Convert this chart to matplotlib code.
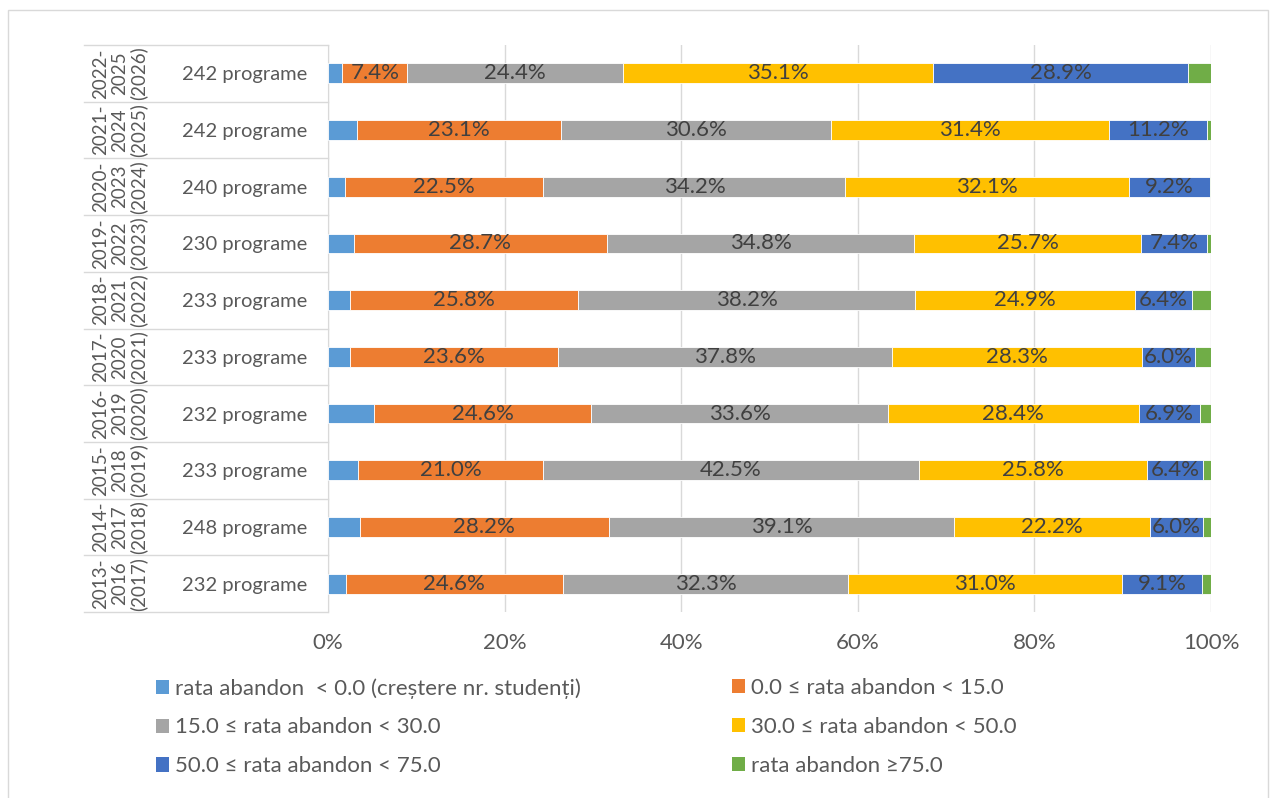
import numpy as np
import matplotlib.pyplot as plt
from matplotlib.patches import Patch, Rectangle
from matplotlib.transforms import blended_transform_factory

plt.rcParams['font.family'] = ['Lato', 'DejaVu Sans']

# rows from bottom to top
periods = ['2013-\n2016\n(2017)', '2014-\n2017\n(2018)', '2015-\n2018\n(2019)', '2016-\n2019\n(2020)',
           '2017-\n2020\n(2021)', '2018-\n2021\n(2022)', '2019-\n2022\n(2023)', '2020-\n2023\n(2024)',
           '2021-\n2024\n(2025)', '2022-\n2025\n(2026)']
programe = [232, 248, 233, 232, 233, 233, 230, 240, 242, 242]

neg = [2.0, 3.6, 3.4, 5.2, 2.5, 2.5, 2.9, 1.9, 3.3, 1.6]
r0_15 = [24.6, 28.2, 21.0, 24.6, 23.6, 25.8, 28.7, 22.5, 23.1, 7.4]
r15_30 = [32.3, 39.1, 42.5, 33.6, 37.8, 38.2, 34.8, 34.2, 30.6, 24.4]
r30_50 = [31.0, 22.2, 25.8, 28.4, 28.3, 24.9, 25.7, 32.1, 31.4, 35.1]
r50_75 = [9.1, 6.0, 6.4, 6.9, 6.0, 6.4, 7.4, 9.2, 11.2, 28.9]
r75 = [1.0, 0.9, 0.9, 1.3, 1.8, 2.2, 0.5, 0.2, 0.4, 2.6]

series = [neg, r0_15, r15_30, r30_50, r50_75, r75]
names = ['rata abandon  < 0.0 (creștere nr. studenți)', '0.0 ≤ rata abandon < 15.0',
         '15.0 ≤ rata abandon < 30.0', '30.0 ≤ rata abandon < 50.0',
         '50.0 ≤ rata abandon < 75.0', 'rata abandon ≥75.0']
colors = ['#5B9BD5', '#ED7D31', '#A5A5A5', '#FFC000', '#4472C4', '#70AD47']
labelled = [False, True, True, True, True, False]

txt = '#404040'
fig = plt.figure(figsize=(12.7, 7.98), dpi=100)
fig.patches.append(Rectangle((8 / 1270, -0.01), 1260 / 1270, 1 - 10 / 798 + 0.01,
                             transform=fig.transFigure, fill=False, ec='#d9d9d9', lw=1))
ax = fig.add_axes([328 / 1270, 1 - 612 / 798, 883 / 1270, 567 / 798])

y = np.arange(len(periods))
left = np.zeros(len(periods))
for vals, c, lab in zip(series, colors, labelled):
    v = np.array(vals)
    bars = ax.barh(y, v, left=left, height=0.35, color=c, edgecolor='white', linewidth=0.6, zorder=3)
    if lab:
        ax.bar_label(bars, labels=[f'{x:.1f}%' for x in v], label_type='center',
                     fontsize=16, color=txt)
    left += v

ax.set_xlim(0, 100)
ax.set_ylim(-0.5, len(periods) - 0.5)
ax.set_xticks(np.arange(0, 101, 20))
ax.set_xticklabels([f'{t}%' for t in range(0, 101, 20)])
ax.xaxis.grid(True, color='#d9d9d9', lw=1, zorder=0)
ax.tick_params(axis='x', length=0, pad=15, labelsize=16, labelcolor='#595959')
ax.set_yticks(y)
ax.set_yticklabels([f'{p} programe' for p in programe])
ax.tick_params(axis='y', length=0, pad=15, labelsize=14.5, labelcolor='#595959')
for s in ['top', 'right', 'bottom']:
    ax.spines[s].set_visible(False)
ax.spines['left'].set_color('#d9d9d9')

tr = blended_transform_factory(ax.transAxes, ax.transData)
x0 = (84 - 328) / 883
for k in np.arange(-0.5, len(periods), 1.0):
    ax.plot([x0, 0], [k, k], color='#d9d9d9', lw=1, transform=tr, clip_on=False)
for yi, p in zip(y, periods):
    ax.text((120 - 328) / 883, yi, p, transform=tr, rotation=90, ha='center', va='center',
            multialignment='center', fontsize=13.5, color='#595959', linespacing=1.12)

handles = [Patch(facecolor=c, label=n) for c, n in zip(colors, names)]
kw = dict(frameon=False, fontsize=16, labelcolor='#595959', handlelength=0.6, handleheight=0.6,
          handletextpad=0.25, labelspacing=0.85, loc='upper left', borderaxespad=0, borderpad=0)
fig.legend(handles[0::2], names[0::2], bbox_to_anchor=(156 / 1270, 1 - 678 / 798), **kw)
fig.legend(handles[1::2], names[1::2], bbox_to_anchor=(732 / 1270, 1 - 678 / 798), **kw)

fig.savefig('out.png', dpi=100)
